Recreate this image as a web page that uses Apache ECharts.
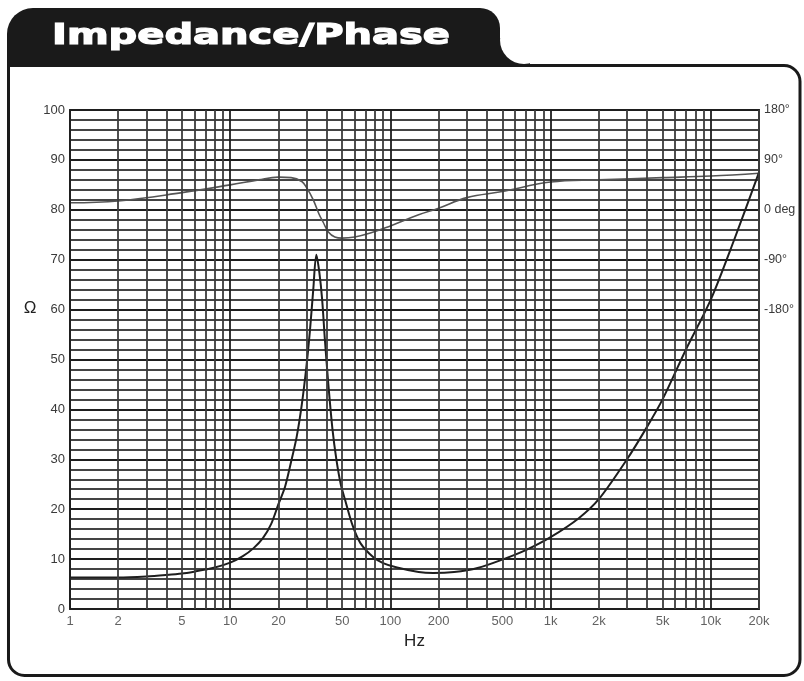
<!DOCTYPE html>
<html>
<head>
<meta charset="utf-8">
<script src="https://cdn.jsdelivr.net/npm/echarts@6/dist/echarts.min.js"></script>
<style>
  html, body { margin: 0; padding: 0; background: #fff; }
  #chart { width: 804px; height: 681px; }
</style>
</head>
<body>
<div id="chart"></div>
<script>
// Impedance magnitude (ohms) against frequency (Hz)
const impFreq = [1, 1.5, 2, 3, 4, 5, 6, 7, 8, 10, 12, 14, 16, 18, 20, 22, 24, 26, 28, 30, 31.5, 33, 34.5, 36, 37.5, 39, 41, 43.5, 46, 49, 52, 58, 65, 78, 90, 110, 150, 185, 250, 350, 500, 700, 1000, 1500, 2000, 3000, 4000, 5000, 7000, 10000, 14000, 20000];
const impOhm  = [6.3, 6.3, 6.3, 6.5, 6.8, 7.1, 7.5, 7.9, 8.3, 9.3, 10.6, 12.2, 14.2, 17.0, 21.0, 24.5, 29.5, 34.5, 41, 49, 56, 64, 71, 67.5, 62, 54, 45, 36, 30, 25, 22, 16.8, 13.2, 10.4, 9.2, 8.3, 7.4, 7.2, 7.4, 8.2, 9.9, 11.8, 14.4, 18.2, 22, 30, 36.5, 42, 52, 62, 74, 87.5];

// Phase (degrees) against frequency (Hz)
const phaseFreq = [1, 2, 5, 10, 15, 20, 24, 28, 30, 33, 36, 38, 41, 45, 50, 60, 75, 100, 150, 200, 300, 500, 1000, 2000, 5000, 10000, 20000];
const phaseDeg  = [12.6, 16, 31, 45, 54, 59, 58, 51, 40, 18, -9, -22, -40, -49, -51, -49, -42, -29, -9, 3, 22, 33, 50, 54, 58, 61, 66];

// Log grid frequencies and the labelled ones
const gridFreqs = [1,2,3,4,5,6,7,8,9,10,20,30,40,50,60,70,80,90,100,200,300,400,500,600,700,800,900,1000,2000,3000,4000,5000,6000,7000,8000,9000,10000,20000];
const labelFreqs = [1, 2, 5, 10, 20, 50, 100, 200, 500, 1000, 2000, 5000, 10000, 20000];
const labelTexts = ['1', '2', '5', '10', '20', '50', '100', '200', '500', '1k', '2k', '5k', '10k', '20k'];

// Right-hand phase labels
const phaseTickValues = [180, 90, 0, -90, -180];
const phaseTickTexts  = ['180°', '90°', '0 deg', '-90°', '-180°'];

const chart = echarts.init(document.getElementById('chart'), null, { renderer: 'canvas' });

const labelFont = 'Liberation Sans, Arial, sans-serif';
const ink = '#1a1a1a';

const option = {
  backgroundColor: '#ffffff',
  animation: false,
  grid: {
    left: 70, right: 45, top: 110, bottom: 72,
    show: true, borderColor: '#2a2a2a', borderWidth: 2, backgroundColor: '#fff'
  },
  xAxis: {
    type: 'log', logBase: 10, min: 1, max: 20000,
    axisLine: { show: false },
    axisTick: { show: false },
    axisLabel: { show: false },
    splitLine: { show: false },
    name: 'Hz', nameLocation: 'middle', nameGap: 24,
    nameTextStyle: { fontFamily: labelFont, fontSize: 17, color: '#222' }
  },
  yAxis: [
    {
      type: 'value', min: 0, max: 100, interval: 2,
      axisLine: { show: false },
      axisTick: { show: false },
      axisLabel: {
        margin: 5, fontFamily: labelFont, fontSize: 13, color: '#3a3a3a',
        formatter: v => (v % 10 === 0 ? String(v) : '')
      },
      splitLine: {
        show: true,
        lineStyle: { color: ['#1e1e1e', '#444', '#444', '#444', '#444'], width: 1.8 }
      }
    },
    {
      type: 'value', min: -720, max: 180, interval: 90, position: 'right',
      axisLine: { show: false },
      axisTick: { show: false },
      splitLine: { show: false },
      axisLabel: {
        margin: 5, fontFamily: labelFont, fontSize: 12.5, color: '#3a3a3a',
        formatter: v => {
          const i = phaseTickValues.indexOf(v);
          return i >= 0 ? phaseTickTexts[i] : '';
        }
      }
    }
  ],
  graphic: [
    // concave fillet where the title tab meets the frame
    { type: 'rect', silent: true, z: 1, shape: { x: 496, y: 38, width: 34, height: 28 }, style: { fill: ink } },
    { type: 'circle', silent: true, z: 2, shape: { cx: 524, cy: 40, r: 24 }, style: { fill: '#fff' } },
    // title tab
    {
      type: 'rect', silent: true, z: 3,
      shape: { x: 7, y: 8, width: 493, height: 58, r: [26, 20, 0, 0] },
      style: { fill: ink }
    },
    // outer frame
    {
      type: 'rect', silent: true, z: 3,
      shape: { x: 8.5, y: 65.5, width: 791.5, height: 610, r: [0, 16, 16, 16] },
      style: { fill: 'none', stroke: ink, lineWidth: 3 }
    },
    {
      type: 'text', silent: true, z: 4, x: 52, y: 37, scaleX: 1.43,
      style: {
        text: 'Impedance/Phase', x: 0, y: 0,
        fill: '#ffffff', stroke: '#ffffff', lineWidth: 1.2,
        font: 'bold 28px "DejaVu Sans", sans-serif',
        verticalAlign: 'middle', align: 'left'
      }
    },
    {
      type: 'text', silent: true, z: 4, x: 30, y: 308,
      style: {
        text: 'Ω', fill: '#222', font: '17px "Liberation Sans", Arial, sans-serif',
        align: 'center', verticalAlign: 'middle'
      }
    }
  ],
  series: [
    {
      // vertical log grid lines and frequency labels
      type: 'scatter', silent: true,
      symbolSize: 0,
      data: labelFreqs.map((f, i) => ({ value: [f, 0], name: labelTexts[i] })),
      label: {
        show: true, position: 'bottom', distance: 6,
        fontFamily: labelFont, fontSize: 13, color: '#3a3a3a',
        formatter: p => p.name
      },
      markLine: {
        silent: true, symbol: ['none', 'none'], animation: false,
        label: { show: false },
        data: gridFreqs.map(f => ({
          xAxis: f,
          lineStyle: {
            type: 'solid',
            color: Math.log10(f) % 1 === 0 ? '#1e1e1e' : '#3c3c3c',
            width: 1.8
          }
        }))
      },
      z: 1
    },
    {
      name: 'Phase', type: 'line', yAxisIndex: 1,
      data: phaseFreq.map((f, i) => [f, phaseDeg[i]]),
      smooth: 0.4, showSymbol: false,
      lineStyle: { color: '#555', width: 1.6 },
      z: 3
    },
    {
      name: 'Impedance', type: 'line', yAxisIndex: 0,
      data: impFreq.map((f, i) => [f, impOhm[i]]),
      smooth: 0.3, showSymbol: false,
      lineStyle: { color: '#1e1e1e', width: 2 },
      z: 4
    }
  ]
};

chart.setOption(option);
</script>
</body>
</html>
